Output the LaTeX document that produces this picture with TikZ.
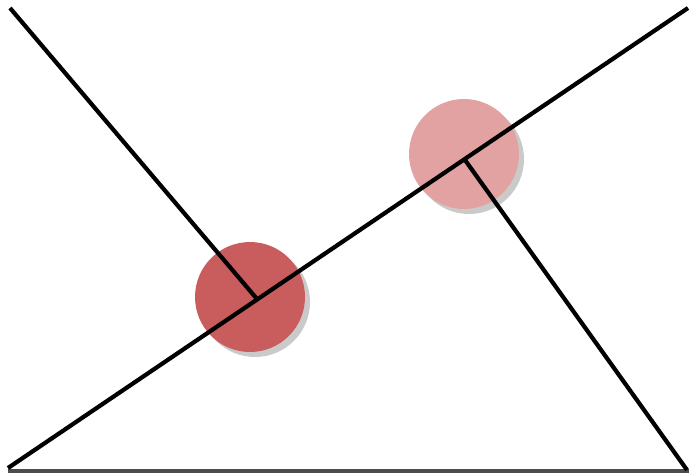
\documentclass[tikz,border=0pt]{standalone}
\usepackage{tikz}
\usetikzlibrary{shadows}
\tikzset{
  dball/.style={circle,inner sep=0pt,minimum size=2.2cm,
    drop shadow={shadow xshift=0.1cm,shadow yshift=-0.1cm,fill=gray!70,opacity=0.6}},
  dline/.style={line width=2.4pt,black},
  dbase/.style={line width=2.2pt,gray!60!black},
}
\definecolor{ballA}{RGB}{201,92,92}
\definecolor{ballB}{RGB}{226,162,162}
\begin{document}
\begin{tikzpicture}[x=0.02cm,y=-0.02cm]
\useasboundingbox (0,0) rectangle (689,474);
% ---- the two balls, behind the lines
\node[dball,fill=ballA] (balla) at (250,297) {};
\node[dball,fill=ballB] (ballb) at (464,154) {};
% ---- end points and feet
\coordinate (tl) at (10,8);
\coordinate (bl) at (8,468);
\coordinate (tr) at (688,8);
\coordinate (br) at (687,470);
\coordinate (foota) at (257,299);
\coordinate (footb) at (465,160);
\coordinate (basel) at (8,471);
\coordinate (baser) at (689,471);
% ---- lines
\draw[dbase] (basel) -- (baser);
\draw[dline] (bl) -- (tr);
\draw[dline] (tl) -- (foota);
\draw[dline] (footb) -- (br);
\end{tikzpicture}
\end{document}
